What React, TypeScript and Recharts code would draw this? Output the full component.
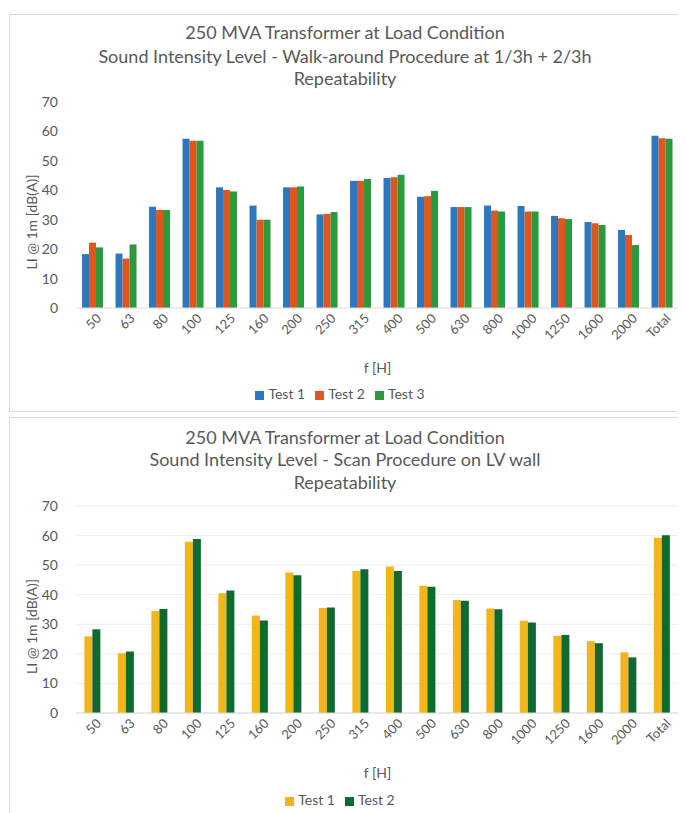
import React from 'react';
import { BarChart, Bar, XAxis, YAxis, CartesianGrid, Legend, Label } from 'recharts';

const FONT = 'Lato, "Open Sans", sans-serif';
const TEXT = '#595959';

const categories = ['50', '63', '80', '100', '125', '160', '200', '250', '315', '400', '500', '630', '800', '1000', '1250', '1600', '2000', 'Total'];

const walkTest1 = [18.3, 18.5, 34.4, 57.5, 41.0, 34.8, 41.0, 31.8, 43.2, 44.2, 37.8, 34.3, 34.8, 34.7, 31.3, 29.2, 26.5, 58.5];
const walkTest2 = [22.2, 16.8, 33.3, 56.8, 40.1, 30.0, 41.0, 32.0, 43.2, 44.4, 38.0, 34.3, 33.1, 32.8, 30.5, 28.8, 24.8, 57.7];
const walkTest3 = [20.6, 21.6, 33.3, 56.8, 39.6, 30.0, 41.3, 32.6, 43.8, 45.3, 39.8, 34.3, 32.8, 32.8, 30.2, 28.2, 21.4, 57.5];

const scanTest1 = [25.9, 20.2, 34.5, 57.9, 40.5, 33.0, 47.5, 35.5, 48.0, 49.5, 43.0, 38.2, 35.3, 31.2, 26.1, 24.3, 20.5, 59.3];
const scanTest2 = [28.3, 20.8, 35.2, 58.8, 41.4, 31.3, 46.6, 35.7, 48.6, 48.0, 42.7, 38.0, 35.1, 30.6, 26.4, 23.6, 18.8, 60.1];

const yTicks = [0, 10, 20, 30, 40, 50, 60, 70];

const walkTitle = [
  '250 MVA Transformer at Load Condition',
  'Sound Intensity Level - Walk-around Procedure at 1/3h + 2/3h',
  'Repeatability',
];
const scanTitle = [
  '250 MVA Transformer at Load Condition',
  'Sound Intensity Level - Scan Procedure on LV wall',
  'Repeatability',
];

const walkData = categories.map((c, i) => ({ f: c, t1: walkTest1[i], t2: walkTest2[i], t3: walkTest3[i] }));
const scanData = categories.map((c, i) => ({ f: c, t1: scanTest1[i], t2: scanTest2[i] }));

const AngledTick = (props: any) => {
  const { x, y, payload } = props;
  return (
    <g transform={`translate(${x + 6},${y + 8})`}>
      <text x={0} y={0} dy="0.35em" textAnchor="end" fill={TEXT} fontSize={13} fontFamily={FONT} transform="rotate(-45)">
        {payload.value}
      </text>
    </g>
  );
};

const YLabel = (props: any) => {
  const vb = props.viewBox || {};
  const cx = vb.x + 21;
  const cy = vb.y + vb.height / 2 + 17;
  return (
    <text x={cx} y={cy} textAnchor="middle" dominantBaseline="central" fill={TEXT} fontSize={14} fontFamily={FONT} transform={`rotate(-90, ${cx}, ${cy})`}>
      LI @ 1m [dB(A)]
    </text>
  );
};

const XLabel = (props: any) => {
  const vb = props.viewBox || {};
  const cx = vb.x + vb.width / 2;
  const cy = vb.y + 59;
  return (
    <text x={cx} y={cy} textAnchor="middle" dominantBaseline="central" fill={TEXT} fontSize={14} fontFamily={FONT}>
      f [H]
    </text>
  );
};

const Title = ({ lines, tops }: { lines: string[]; tops: number[] }) => (
  <>
    {lines.map((l, i) => (
      <div
        key={i}
        style={{
          position: 'absolute',
          left: 0,
          width: '100%',
          top: tops[i],
          textAlign: 'center',
          fontFamily: FONT,
          fontSize: 18,
          lineHeight: '22px',
          color: TEXT,
          zIndex: 2,
          pointerEvents: 'none',
        }}
      >
        {l}
      </div>
    ))}
  </>
);

const legendFormatter = (value: string) => <span style={{ color: TEXT, fontFamily: FONT, fontSize: 14 }}>{value}</span>;

const frameStyle: React.CSSProperties = {
  position: 'absolute',
  left: 1,
  width: 672,
  border: '1px solid #d9d9d9',
  background: '#fff',
  boxSizing: 'border-box',
};

export default function App() {
  return (
    <div style={{ position: 'relative', width: 678, height: 805 }}>
      <div style={{ ...frameStyle, top: 6, height: 398 }}>
        <Title lines={walkTitle} tops={[6, 30, 52]} />
        <BarChart
          width={670}
          height={396}
          data={walkData}
          margin={{ top: 87, right: 1, left: 0, bottom: 0 }}
          barCategoryGap="18%"
          barGap={0}
        >
          <XAxis
            dataKey="f"
            height={103}
            interval={0}
            tick={<AngledTick />}
            tickLine={false}
            tickSize={0}
            tickMargin={0}
            axisLine={{ stroke: '#d9d9d9' }}
          >
            <Label content={<XLabel />} />
          </XAxis>
          <YAxis
            domain={[0, 70]}
            ticks={yTicks}
            width={66}
            axisLine={false}
            tickLine={false}
            tickSize={0}
            tickMargin={18}
            tick={{ fill: TEXT, fontSize: 14, fontFamily: FONT }}
          >
            <Label content={<YLabel />} />
          </YAxis>
          <Legend
            verticalAlign="middle"
            align="center"
            layout="horizontal"
            iconType="square"
            iconSize={9}
            formatter={legendFormatter}
            wrapperStyle={{ top: 370, left: 0, width: 670 }}
          />
          <Bar dataKey="t1" name="Test 1" fill="#2b78c2" isAnimationActive={false} />
          <Bar dataKey="t2" name="Test 2" fill="#e0561f" isAnimationActive={false} />
          <Bar dataKey="t3" name="Test 3" fill="#2b9a3c" isAnimationActive={false} />
        </BarChart>
      </div>

      <div style={{ ...frameStyle, top: 409, height: 400 }}>
        <Title lines={scanTitle} tops={[8, 30, 53]} />
        <BarChart
          width={670}
          height={398}
          data={scanData}
          margin={{ top: 88, right: 1, left: 0, bottom: 0 }}
          barCategoryGap="25%"
          barGap={0}
        >
          <CartesianGrid vertical={false} stroke="#eeeeee" />
          <XAxis
            dataKey="f"
            height={103}
            interval={0}
            tick={<AngledTick />}
            tickLine={false}
            tickSize={0}
            tickMargin={0}
            axisLine={{ stroke: '#d9d9d9' }}
          >
            <Label content={<XLabel />} />
          </XAxis>
          <YAxis
            domain={[0, 70]}
            ticks={yTicks}
            width={66}
            axisLine={false}
            tickLine={false}
            tickSize={0}
            tickMargin={18}
            tick={{ fill: TEXT, fontSize: 14, fontFamily: FONT }}
          >
            <Label content={<YLabel />} />
          </YAxis>
          <Legend
            verticalAlign="middle"
            align="center"
            layout="horizontal"
            iconType="square"
            iconSize={9}
            formatter={legendFormatter}
            wrapperStyle={{ top: 373, left: 0, width: 670 }}
          />
          <Bar dataKey="t1" name="Test 1" fill="#f2b51a" isAnimationActive={false} />
          <Bar dataKey="t2" name="Test 2" fill="#0f6a30" isAnimationActive={false} />
        </BarChart>
      </div>
    </div>
  );
}
